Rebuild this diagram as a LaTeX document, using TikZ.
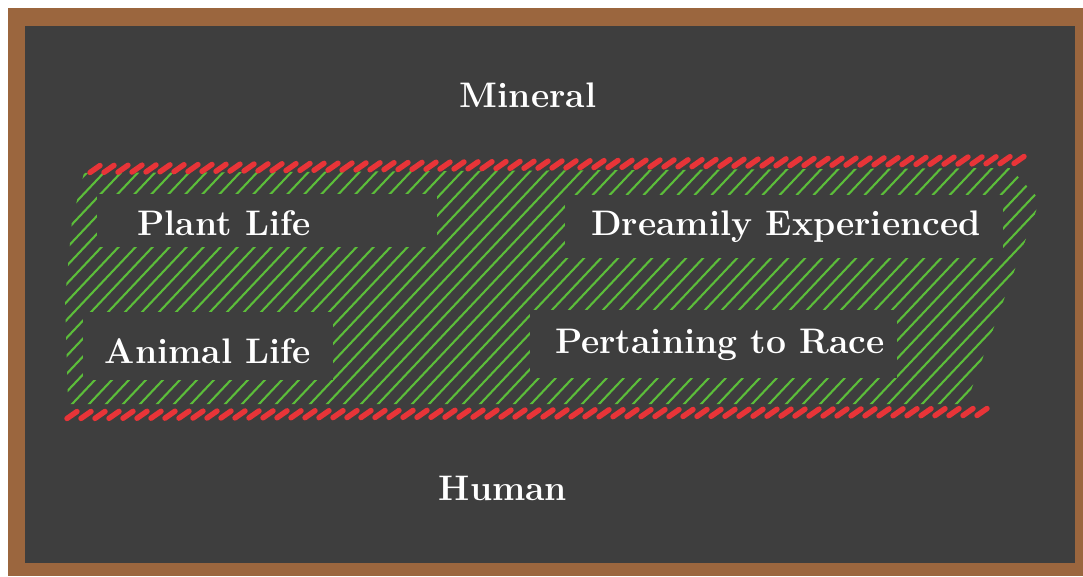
\documentclass[tikz,border=0pt]{standalone}
\usepackage{xcolor}
\definecolor{board}{RGB}{62,62,62}
\definecolor{woodframe}{RGB}{155,102,62}
\definecolor{chalkgreen}{RGB}{92,190,58}
\definecolor{chalkred}{RGB}{232,52,56}
\begin{document}
\begin{tikzpicture}[x=1pt,y=-1pt,
  lbl/.style={text=white,font=\fontsize{35.5}{38}\selectfont\bfseries,inner sep=0pt,anchor=base},
  hatchline/.style={draw=chalkgreen,line width=2.1pt,line cap=round},
  reddash/.style={draw=chalkred,line width=5.4pt,line cap=round},
  clearbox/.style={fill=board,draw=none}]
\useasboundingbox (0,0) rectangle (1083,576);
\fill[white] (0,0) rectangle (1083,576);
\fill[woodframe] (8,8) rectangle (1083,576);
\fill[board] (25,26) rectangle (1075,563);

% green hatching
\begin{scope}
  \clip (84,173) -- (1010,168) -- (1040,200) -- (966,404) -- (68,404) -- (65,300) -- (72,220) -- cycle;
  \foreach \x in {-300,-283,...,1070} \draw[hatchline] (\x,420) -- ++(260,-275);
\end{scope}

% cleared areas behind the labels
\fill[clearbox] (97,194) rectangle (437,247);
\fill[clearbox] (565,195) rectangle (1003,258);
\fill[clearbox] (83,312) rectangle (333,380);
\fill[clearbox] (530,310) rectangle (897,378);

% red dashed borders
\foreach \i in {0,...,66} {
  \pgfmathsetmacro{\xx}{95+\i*14}
  \pgfmathsetmacro{\yy}{169-9*\i/66}
  \draw[reddash] ({\xx-5},{\yy+3.5}) -- ({\xx+5},{\yy-3.5});
}
\foreach \i in {0,...,65} {
  \pgfmathsetmacro{\xx}{72+\i*14}
  \pgfmathsetmacro{\yy}{415-3*\i/65}
  \draw[reddash] ({\xx-5},{\yy+3.5}) -- ({\xx+5},{\yy-3.5});
}

% labels
\node[lbl] (mineral) at (528,107) {Mineral};
\node[lbl] (plant) at (224,235) {Plant Life};
\node[lbl] (dream) at (786,235) {Dreamily Experienced};
\node[lbl] (animal) at (208,363) {Animal Life};
\node[lbl] (race) at (720,353) {Pertaining to Race};
\node[lbl] (human) at (503,500) {Human};
\end{tikzpicture}
\end{document}
